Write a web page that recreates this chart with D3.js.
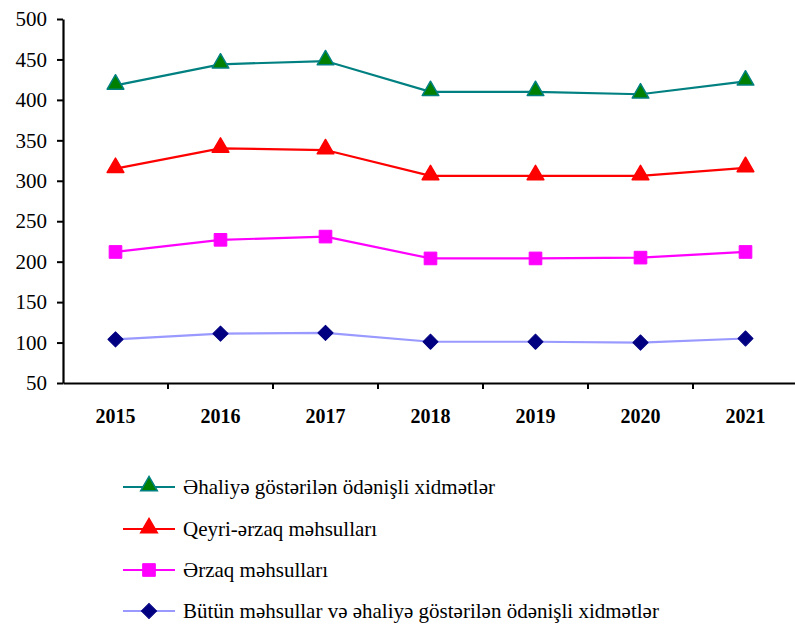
<!DOCTYPE html>
<html>
<head>
<meta charset="utf-8">
<script src="https://cdn.jsdelivr.net/npm/d3@7"></script>
<style>
  text.lbl { font-family: "Liberation Serif", Tinos, FreeSerif !important; }
</style>
</head>
<body style="margin:0">
<svg id="chart" width="795" height="628"></svg>
<script>
const years = ["2015", "2016", "2017", "2018", "2019", "2020", "2021"];
const yTicks = [50, 100, 150, 200, 250, 300, 350, 400, 450, 500];

const services = [418, 444, 448, 410, 410, 407, 423];
const nonFood = [315, 340, 338, 306, 306, 306, 316];
const food = [212, 227, 231, 204, 204, 205, 212];
const total = [104, 111, 112, 101, 101, 100, 105];

const seriesNames = [
  "Əhaliyə göstərilən ödənişli xidmətlər",
  "Qeyri-ərzaq məhsulları",
  "Ərzaq məhsulları",
  "Bütün məhsullar və əhaliyə göstərilən ödənişli xidmətlər"
];

const series = [
  { name: seriesNames[0], values: services, line: "#008080", fill: "#008000", stroke: "#008080", shape: "triangle" },
  { name: seriesNames[1], values: nonFood, line: "#ff0000", fill: "#ff0000", stroke: "#ff0000", shape: "triangle" },
  { name: seriesNames[2], values: food, line: "#ff00ff", fill: "#ff00ff", stroke: "#ff00ff", shape: "square" },
  { name: seriesNames[3], values: total, line: "#9999ff", fill: "#000080", stroke: "#000080", shape: "diamond" }
];

const svg = d3.select("#chart");
const FONT = '"Liberation Serif", Tinos, FreeSerif';

const x = d3.scaleBand().domain(years).range([63, 798]);
const y = d3.scaleLinear().domain([50, 500]).range([383, 19]);

// y axis
const yAxis = svg.append("g")
  .attr("transform", "translate(63,0)")
  .call(d3.axisLeft(y).tickValues(yTicks).tickSize(6).tickSizeOuter(0).tickPadding(10));
yAxis.select(".domain").attr("stroke", "#000").attr("stroke-width", 2.2);
yAxis.selectAll(".tick line").attr("stroke", "#000").attr("stroke-width", 2);
yAxis.selectAll(".tick text").attr("class", "lbl").attr("fill", "#000");

// x axis
const xAxis = svg.append("g")
  .attr("transform", "translate(0,383)")
  .call(d3.axisBottom(x).tickSize(0).tickPadding(26));
xAxis.select(".domain").attr("stroke", "#000").attr("stroke-width", 2.2);
xAxis.selectAll(".tick text").attr("class", "lbl yr").attr("fill", "#000");
// tick marks between categories
const bounds = years.slice(1).map(d => x(d));
xAxis.selectAll(".sep").data(bounds).join("line")
  .attr("x1", d => d).attr("x2", d => d)
  .attr("y1", 0).attr("y2", 6)
  .attr("stroke", "#000").attr("stroke-width", 2);

const cx = d => x(d) + x.bandwidth() / 2;

function symbolFor(shape) {
  if (shape === "triangle") return d3.symbol().type(d3.symbolTriangle).size(120);
  return d3.symbol().type(d3.symbolSquare).size(shape === "square" ? 160 : 115);
}

function markerTransform(shape, px, py) {
  if (shape === "triangle") return `translate(${px},${py - 1})`;
  if (shape === "diamond") return `translate(${px},${py}) rotate(45)`;
  return `translate(${px},${py})`;
}

const line = d3.line().x((d, i) => cx(years[i])).y(d => y(d));

series.forEach(s => {
  svg.append("path")
    .datum(s.values)
    .attr("fill", "none")
    .attr("stroke", s.line)
    .attr("stroke-width", 2.2)
    .attr("d", line);

  svg.append("g").selectAll("path")
    .data(s.values)
    .join("path")
    .attr("transform", (d, i) => markerTransform(s.shape, cx(years[i]), y(d)))
    .attr("d", symbolFor(s.shape))
    .attr("fill", s.fill)
    .attr("stroke", s.stroke)
    .attr("stroke-width", s.shape === "triangle" ? 1.5 : 1)
    .attr("stroke-linejoin", "round");
});

// legend
const legendY = [487, 529, 570, 611];
const legend = svg.append("g");
series.forEach((s, i) => {
  const row = legend.append("g").attr("transform", `translate(0,${legendY[i]})`);
  row.append("line")
    .attr("x1", 123).attr("x2", 175)
    .attr("stroke", s.line).attr("stroke-width", 2.2);
  row.append("path")
    .attr("transform", markerTransform(s.shape, 149, 0))
    .attr("d", symbolFor(s.shape))
    .attr("fill", s.fill)
    .attr("stroke", s.stroke)
    .attr("stroke-width", s.shape === "triangle" ? 1.5 : 1);
  row.append("text")
    .attr("class", "lbl")
    .attr("x", 183).attr("y", 0).attr("dy", "0.35em")
    .attr("fill", "#000")
    .text(s.name);
});

// fonts, set last on every label
svg.selectAll("g").attr("font-family", null).attr("font-size", null);
svg.selectAll("text.lbl")
  .attr("font-family", "Liberation Serif")
  .style("font-family", FONT, "important")
  .style("font-size", "21px");
svg.selectAll("text.yr")
  .style("font-size", "20px")
  .style("font-weight", "bold");
</script>
</body>
</html>
